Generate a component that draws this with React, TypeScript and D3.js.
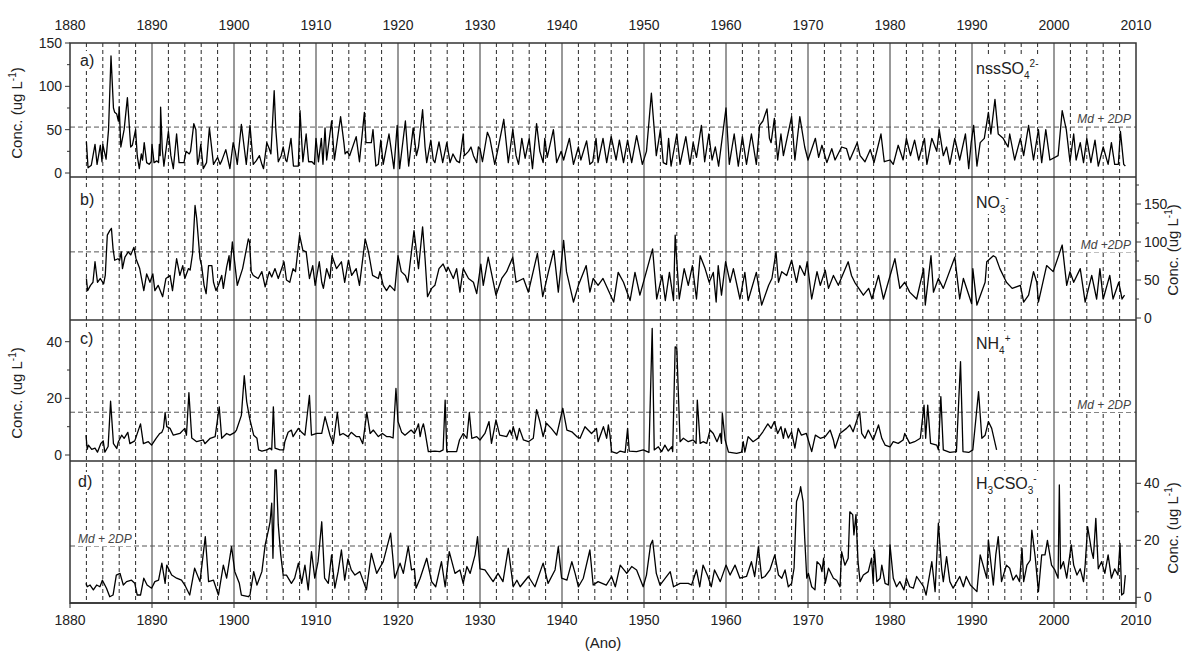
import React from "react";
import * as d3 from "d3";

// decade labels on top/bottom axis
const decadeTicks = d3.range(1880, 2011, 10);
// dashed guide years (every 2 years, not decades)
const guideYears = d3.range(1882, 2010, 2).filter((y) => y % 10 !== 0);

// a) nssSO4 2-  [year, ug/L]
const nssSO4: [number, number][] = [
  [1882.0, 36], [1882.2, 6], [1882.6, 9], [1883.05, 33], [1883.3, 10], [1883.7, 32], [1883.9, 13], [1884.0, 33],
  [1884.4, 16], [1884.7, 50], [1885.0, 135], [1885.3, 75], [1885.45, 70], [1885.7, 68], [1885.9, 60], [1886.0, 76],
  [1886.2, 30], [1886.6, 50], [1887.0, 87], [1887.4, 30], [1887.6, 32], [1888.0, 50], [1888.2, 20], [1888.45, 5],
  [1888.7, 22], [1888.85, 15], [1889.05, 35], [1889.35, 12], [1889.65, 10], [1889.9, 13], [1890.0, 33], [1890.25, 12],
  [1890.6, 14], [1890.8, 12], [1890.9, 33], [1891.0, 20], [1891.05, 76], [1891.25, 28], [1891.45, 8], [1892.0, 48],
  [1892.3, 20], [1892.6, 5], [1893.0, 45], [1893.3, 12], [1893.6, 12], [1893.9, 12], [1894.15, 25], [1894.55, 22],
  [1894.7, 25], [1895.1, 57], [1895.35, 50], [1895.55, 10], [1895.7, 15], [1895.95, 33], [1896.25, 5], [1896.65, 12],
  [1897.0, 52], [1897.5, 10], [1898.0, 18], [1898.3, 10], [1898.5, 14], [1899.0, 27], [1899.5, 5], [1899.9, 35],
  [1900.15, 25], [1900.4, 10], [1900.9, 56], [1901.5, 10], [1901.95, 55], [1902.35, 10], [1902.7, 14], [1903.1, 20],
  [1903.4, 10], [1903.6, 5], [1904.0, 35], [1904.3, 28], [1904.5, 22], [1904.9, 95], [1905.1, 50], [1905.4, 13],
  [1905.75, 20], [1906.0, 30], [1906.3, 15], [1906.45, 13], [1906.95, 40], [1907.25, 8], [1907.85, 8], [1908.05, 72],
  [1908.4, 13], [1908.8, 45], [1909.1, 13], [1909.5, 13], [1909.8, 10], [1910.0, 40], [1910.3, 13], [1910.65, 40],
  [1910.85, 10], [1911.1, 52], [1911.3, 15], [1911.9, 60], [1912.25, 15], [1913.0, 65], [1913.4, 35], [1913.55, 22],
  [1913.8, 25], [1914.1, 20], [1914.9, 42], [1915.3, 13], [1915.9, 70], [1916.1, 35], [1916.75, 35], [1916.95, 50],
  [1917.3, 8], [1917.6, 10], [1917.9, 38], [1918.2, 10], [1918.9, 45], [1919.5, 5], [1919.9, 55], [1920.2, 5],
  [1920.9, 60], [1921.3, 8], [1921.85, 52], [1922.25, 20], [1922.5, 30], [1923.0, 73], [1923.3, 30], [1923.5, 12],
  [1924.0, 38], [1924.3, 15], [1924.5, 12], [1925.0, 36], [1925.45, 12], [1925.95, 35], [1926.35, 12], [1926.7, 22],
  [1927.15, 14], [1927.5, 12], [1927.95, 45], [1928.1, 20], [1928.6, 25], [1928.9, 30], [1929.2, 20], [1929.6, 12],
  [1929.8, 30], [1930.0, 28], [1930.3, 13], [1930.9, 47], [1931.2, 40], [1931.8, 10], [1932.2, 28], [1932.9, 62],
  [1933.45, 12], [1934.0, 50], [1934.4, 20], [1934.7, 10], [1935.1, 40], [1935.5, 17], [1936.0, 40], [1936.4, 5],
  [1936.9, 57], [1937.3, 25], [1937.7, 12], [1937.9, 40], [1938.2, 18], [1938.95, 50], [1939.35, 12], [1939.9, 25],
  [1940.2, 15], [1940.9, 40], [1941.4, 10], [1942.0, 30], [1942.3, 15], [1943.0, 37], [1943.4, 10], [1943.75, 13],
  [1944.15, 40], [1944.4, 12], [1945.0, 40], [1945.45, 12], [1946.0, 42], [1946.6, 15], [1947.0, 38], [1947.5, 12],
  [1948.0, 38], [1948.5, 12], [1949.1, 43], [1949.8, 10], [1950.3, 25], [1950.9, 92], [1951.5, 20], [1952.0, 50],
  [1952.35, 12], [1952.75, 10], [1953.0, 40], [1953.3, 8], [1954.0, 45], [1954.4, 10], [1955.1, 42], [1955.6, 10],
  [1956.0, 35], [1956.4, 18], [1957.0, 55], [1957.4, 13], [1957.9, 45], [1958.3, 15], [1958.7, 30], [1959.1, 8],
  [1960.0, 75], [1960.4, 10], [1961.0, 45], [1961.5, 8], [1962.0, 42], [1962.5, 10], [1963.1, 45], [1963.7, 10],
  [1964.1, 55], [1964.5, 60], [1965.0, 74], [1965.3, 40], [1965.5, 35], [1965.9, 63], [1966.3, 15], [1966.7, 45],
  [1967.0, 20], [1968.0, 65], [1968.4, 15], [1969.0, 65], [1969.6, 30], [1970.0, 15], [1970.9, 40], [1971.3, 18],
  [1971.7, 32], [1972.3, 12], [1972.9, 28], [1973.3, 15], [1974.1, 30], [1974.7, 28], [1975.1, 15], [1976.0, 35],
  [1976.35, 20], [1976.95, 13], [1977.6, 27], [1978.05, 12], [1978.9, 45], [1979.3, 13], [1980.0, 15], [1980.4, 10],
  [1981.0, 32], [1981.6, 15], [1982.0, 40], [1982.5, 20], [1983.0, 38], [1983.5, 15], [1984.2, 40], [1984.5, 10],
  [1985.1, 40], [1985.7, 25], [1986.0, 50], [1986.5, 20], [1986.9, 30], [1987.3, 10], [1987.9, 40], [1988.5, 15],
  [1989.2, 45], [1989.6, 5], [1989.9, 35], [1990.2, 55], [1990.6, 8], [1991.0, 35], [1991.5, 40], [1992.0, 70],
  [1992.3, 45], [1992.8, 85], [1993.2, 45], [1993.8, 40], [1994.4, 30], [1994.6, 45], [1995.2, 15], [1995.9, 40],
  [1996.3, 20], [1996.9, 55], [1997.5, 15], [1998.1, 50], [1998.5, 12], [1999.0, 50], [1999.5, 15], [2000.5, 20],
  [2001.0, 72], [2001.5, 50], [2001.95, 13], [2002.4, 45], [2002.7, 15], [2003.2, 35], [2003.6, 12], [2004.0, 40],
  [2004.5, 12], [2005.0, 38], [2005.4, 8], [2006.0, 30], [2006.6, 10], [2007.0, 35], [2007.4, 10], [2007.85, 10],
  [2008.1, 48], [2008.5, 10], [2008.7, 8],
];

// b) NO3-
const no3: [number, number][] = [
  [1882.0, 52], [1882.15, 36], [1882.5, 43], [1882.8, 47], [1883.05, 74], [1883.35, 47], [1883.7, 52], [1884.1, 45],
  [1884.3, 56], [1884.55, 109], [1884.85, 115], [1885.05, 118], [1885.25, 91], [1885.45, 76], [1885.85, 78], [1886.05, 76],
  [1886.25, 87], [1886.4, 65], [1886.7, 80], [1887.1, 87], [1887.4, 83], [1887.8, 93], [1888.05, 78], [1888.5, 65],
  [1889.0, 36], [1889.35, 58], [1889.75, 47], [1890.1, 58], [1890.35, 36], [1890.75, 43], [1891.3, 28], [1891.7, 52],
  [1892.2, 56], [1892.5, 36], [1893.0, 78], [1893.4, 56], [1893.75, 69], [1894.0, 52], [1894.45, 65], [1894.65, 63],
  [1894.95, 85], [1895.25, 148], [1895.45, 131], [1895.85, 78], [1896.05, 69], [1896.35, 43], [1896.6, 32], [1896.9, 69],
  [1897.3, 69], [1897.5, 47], [1897.8, 36], [1898.1, 43], [1898.5, 56], [1898.7, 39], [1899.1, 67], [1899.4, 82],
  [1899.5, 63], [1899.8, 100], [1900.4, 43], [1901.05, 65], [1901.75, 104], [1901.9, 100], [1902.1, 61], [1902.35, 56],
  [1902.95, 52], [1903.4, 61], [1903.8, 41], [1904.3, 61], [1904.6, 54], [1905.0, 65], [1905.4, 52], [1906.1, 74],
  [1906.4, 50], [1906.8, 47], [1907.2, 65], [1907.5, 61], [1908.0, 109], [1908.4, 89], [1908.8, 87], [1909.2, 52],
  [1909.6, 69], [1909.9, 43], [1910.4, 74], [1910.7, 47], [1910.9, 39], [1911.3, 65], [1911.7, 52], [1911.95, 82],
  [1912.5, 65], [1913.1, 74], [1913.5, 47], [1913.95, 76], [1914.35, 56], [1914.9, 65], [1915.3, 43], [1916.0, 104],
  [1916.4, 87], [1916.9, 56], [1917.6, 52], [1917.8, 61], [1918.2, 43], [1918.6, 36], [1919.0, 43], [1919.6, 36],
  [1920.0, 82], [1920.4, 61], [1920.9, 56], [1921.2, 47], [1921.95, 115], [1922.5, 65], [1923.0, 120], [1923.3, 78],
  [1923.6, 28], [1924.1, 39], [1924.5, 43], [1925.0, 65], [1925.5, 71], [1925.9, 61], [1926.1, 67], [1926.75, 52],
  [1927.15, 65], [1927.55, 34], [1927.95, 65], [1928.6, 52], [1929.2, 47], [1929.6, 32], [1930.1, 71], [1930.4, 43],
  [1931.0, 80], [1931.95, 30], [1932.65, 52], [1933.25, 61], [1934.0, 80], [1934.4, 47], [1935.3, 52], [1935.9, 34],
  [1937.0, 85], [1937.65, 28], [1938.35, 61], [1939.0, 89], [1939.55, 34], [1940.2, 102], [1940.55, 61], [1941.4, 21],
  [1942.0, 43], [1942.95, 69], [1943.4, 34], [1943.8, 52], [1944.4, 43], [1945.0, 52], [1946.3, 21], [1946.85, 60],
  [1947.5, 47], [1948.3, 23], [1948.9, 60], [1949.5, 30], [1951.05, 91], [1951.55, 25], [1952.2, 56], [1952.6, 23],
  [1953.1, 60], [1953.6, 23], [1953.8, 109], [1954.3, 25], [1954.9, 65], [1955.4, 43], [1955.9, 69], [1956.4, 25],
  [1956.85, 82], [1957.45, 65], [1957.95, 47], [1958.45, 60], [1958.8, 21], [1959.05, 69], [1959.45, 30], [1959.95, 74],
  [1960.5, 47], [1960.9, 65], [1961.7, 25], [1962.3, 60], [1962.7, 23], [1963.7, 60], [1964.35, 17], [1965.2, 43],
  [1965.6, 52], [1966.1, 87], [1966.4, 47], [1966.8, 61], [1967.4, 56], [1968.0, 76], [1968.6, 47], [1969.0, 69],
  [1969.6, 56], [1969.9, 74], [1970.45, 25], [1971.1, 61], [1971.5, 43], [1972.1, 63], [1972.5, 39], [1973.1, 56],
  [1973.7, 43], [1974.9, 74], [1975.3, 56], [1975.7, 47], [1976.75, 30], [1977.4, 39], [1977.8, 25], [1978.6, 56],
  [1979.2, 25], [1980.6, 78], [1981.2, 39], [1981.8, 47], [1982.4, 34], [1983.25, 25], [1984.1, 65], [1984.3, 17],
  [1985.0, 82], [1985.3, 34], [1985.9, 52], [1986.5, 39], [1987.9, 80], [1988.5, 25], [1988.95, 52], [1989.95, 19],
  [1990.1, 65], [1990.6, 17], [1991.6, 47], [1991.8, 74], [1992.2, 78], [1992.6, 82], [1992.9, 80], [1993.4, 65],
  [1994.2, 47], [1994.9, 39], [1995.9, 43], [1996.3, 21], [1996.9, 30], [1997.5, 61], [1997.9, 47], [1998.1, 21],
  [1999.1, 69], [1999.9, 61], [2001.0, 96], [2001.55, 43], [2001.95, 61], [2002.4, 47], [2003.2, 65], [2003.8, 21],
  [2004.6, 56], [2005.2, 25], [2005.6, 65], [2006.0, 25], [2006.8, 56], [2007.2, 25], [2007.9, 47], [2008.3, 25],
  [2008.6, 30],
];

// c) NH4+
const nh4: [number, number][] = [
  [1881.95, 7], [1882.1, 2], [1882.25, 3.5], [1882.65, 2], [1883.05, 2.4], [1883.35, 1], [1883.75, 4], [1884.05, 5],
  [1884.25, 1], [1884.65, 3], [1884.95, 19], [1885.3, 4], [1885.7, 2.3], [1885.9, 4.7], [1886.3, 7], [1886.6, 5.9],
  [1887.05, 8], [1887.3, 4], [1887.9, 5], [1888.6, 11], [1888.95, 4], [1889.55, 4.7], [1889.95, 3.5], [1890.5, 5.9],
  [1890.95, 7.6], [1891.2, 8], [1891.4, 9.4], [1891.6, 15], [1891.8, 10], [1892.2, 9.4], [1892.6, 7], [1893.4, 7.6],
  [1894.0, 9.4], [1894.2, 7], [1894.5, 22], [1894.85, 6], [1895.45, 4.7], [1896.25, 5.3], [1896.45, 4], [1897.1, 5.9],
  [1897.7, 6.5], [1898.2, 17], [1898.5, 5.9], [1899.1, 7.6], [1899.5, 7], [1900.1, 8], [1900.3, 8.8], [1900.9, 14],
  [1901.25, 28], [1901.55, 18.8], [1901.9, 13], [1902.4, 7], [1902.8, 5.9], [1903.0, 1.8], [1903.4, 1.4], [1904.0, 1.8],
  [1904.4, 2.4], [1904.6, 1.8], [1904.8, 17], [1905.0, 2.4], [1905.6, 1.8], [1906.05, 1.8], [1906.2, 4.7], [1906.6, 8],
  [1907.0, 8.8], [1907.2, 6.5], [1907.85, 9.4], [1908.25, 8], [1908.65, 7], [1909.2, 21], [1909.45, 7], [1910.1, 7.6],
  [1910.7, 7.6], [1911.1, 13.5], [1911.7, 7], [1912.1, 4], [1912.6, 15], [1912.9, 7], [1913.3, 7.6], [1913.9, 6.5],
  [1914.3, 8], [1914.9, 6.5], [1915.3, 6.5], [1915.7, 4], [1916.2, 15], [1916.6, 7.6], [1917.0, 8.8], [1917.6, 6.5],
  [1918.1, 7.6], [1918.6, 6.5], [1919.0, 6.5], [1919.4, 6], [1919.75, 23.5], [1920.0, 11.8], [1920.45, 8], [1920.85, 7],
  [1921.6, 8.8], [1922.0, 7.6], [1922.3, 9.4], [1922.5, 11], [1922.7, 6.5], [1922.9, 9.4], [1923.1, 11], [1923.3, 8.2],
  [1923.7, 1.2], [1924.5, 1.4], [1925.1, 1.2], [1925.5, 1.8], [1925.75, 19.4], [1925.95, 1.2], [1927.15, 1.2], [1927.5, 5.3],
  [1927.95, 7.6], [1928.4, 5.9], [1928.7, 15], [1929.0, 5.9], [1929.6, 6.5], [1930.0, 5.3], [1930.6, 7.6], [1931.1, 11.8],
  [1931.4, 4.1], [1931.95, 12.4], [1932.4, 7], [1933.25, 6.5], [1933.65, 8.8], [1933.85, 7], [1934.05, 10], [1934.5, 5.3],
  [1934.8, 9.4], [1935.3, 5.3], [1935.9, 4.7], [1936.5, 5.9], [1936.9, 16], [1937.3, 11.8], [1937.7, 6.5], [1938.1, 11.2],
  [1938.7, 9.4], [1939.35, 7], [1940.1, 16.5], [1940.6, 8.8], [1941.2, 8.2], [1941.8, 6.5], [1942.2, 5.9], [1942.8, 10],
  [1943.6, 7.6], [1944.2, 9.4], [1944.4, 4.7], [1945.05, 10], [1945.45, 5.9], [1945.65, 10.6], [1945.85, 7], [1946.05, 1.2],
  [1946.7, 0.6], [1947.1, 1.4], [1947.7, 0.9], [1948.0, 9.4], [1948.2, 1.4], [1949.1, 1.2], [1949.9, 1.8], [1950.6, 0.9],
  [1951.0, 44.7], [1951.25, 1.8], [1951.75, 2.9], [1952.15, 1.2], [1952.55, 3.5], [1952.95, 1.4], [1953.4, 2.9], [1953.5, 1.2],
  [1953.8, 38.2], [1954.0, 37.6], [1954.4, 4.7], [1954.8, 5.9], [1955.4, 4.7], [1956.0, 5.3], [1956.35, 4.1], [1956.5, 19.4],
  [1956.85, 4.1], [1957.2, 4.7], [1957.65, 4.1], [1958.05, 8.8], [1958.45, 7.6], [1958.9, 4.7], [1959.3, 7.6], [1959.45, 4.1],
  [1959.55, 14.7], [1959.9, 5.3], [1960.3, 1], [1961.3, 0.6], [1961.9, 1], [1962.1, 4.7], [1962.3, 1], [1962.7, 6.5],
  [1963.3, 4.7], [1963.9, 5.9], [1964.5, 8.2], [1965.1, 11], [1965.5, 9.4], [1965.9, 11.8], [1966.3, 7.6], [1966.7, 10],
  [1967.0, 5.9], [1967.2, 9.4], [1967.6, 6], [1968.0, 8.2], [1968.4, 2.4], [1968.8, 9.4], [1969.2, 7], [1969.8, 7.6],
  [1970.45, 1.2], [1970.9, 7], [1971.5, 5.9], [1972.1, 6.5], [1972.7, 8.8], [1973.1, 5.3], [1973.3, 2.4], [1973.9, 7.6],
  [1974.7, 9.4], [1975.1, 10.6], [1975.5, 8.2], [1976.3, 15.3], [1976.55, 7.6], [1976.95, 5.9], [1977.35, 8.8], [1977.95, 5.3],
  [1978.6, 10.6], [1979.0, 5.9], [1979.4, 3.5], [1980.0, 2.9], [1980.4, 4.7], [1981.0, 4.1], [1981.6, 5.3], [1981.8, 7.6],
  [1982.4, 4.1], [1983.0, 4.7], [1983.7, 5.9], [1984.15, 17.6], [1984.35, 5.9], [1984.6, 17.6], [1984.95, 4.1], [1985.7, 3.5],
  [1985.9, 1.8], [1986.2, 20.6], [1986.5, 1.8], [1987.3, 0.9], [1988.1, 1.2], [1988.6, 33], [1988.9, 1.2], [1989.6, 0.9],
  [1990.1, 1.8], [1990.8, 22.4], [1991.2, 5.9], [1991.6, 7], [1992.0, 11.8], [1992.4, 9.4], [1993.0, 1.8],
];

// d) H3CSO3-
const h3cso3: [number, number][] = [
  [1881.95, 4.9], [1882.1, 3.7], [1882.45, 4.3], [1882.85, 2.6], [1883.25, 4.3], [1883.65, 3.7], [1883.95, 6], [1884.45, 3.2],
  [1884.85, 0.2], [1885.25, 0.8], [1885.65, 7.8], [1886.1, 8.4], [1886.5, 4.3], [1886.9, 5.5], [1887.5, 6], [1887.9, 4.9],
  [1888.2, 0.8], [1888.6, 0.8], [1889.0, 6.7], [1889.4, 4.3], [1889.95, 3.2], [1890.35, 5.5], [1890.8, 6], [1891.2, 12],
  [1891.6, 4.9], [1891.8, 11.3], [1892.4, 7.8], [1893.0, 6.7], [1893.6, 6], [1894.0, 4.3], [1894.6, 0.8], [1895.2, 10.2],
  [1895.85, 5.5], [1896.5, 21.3], [1896.9, 5.5], [1897.5, 6], [1898.1, 0.8], [1898.7, 11.3], [1899.1, 6.7], [1899.7, 17.8],
  [1900.1, 9], [1900.65, 4.9], [1900.9, 0.8], [1901.75, 0.2], [1901.95, 0.8], [1902.4, 9], [1902.8, 4.3], [1903.4, 9],
  [1903.8, 18.4], [1904.2, 23.6], [1904.4, 26.5], [1904.6, 33], [1904.75, 13.7], [1905.0, 44.7], [1905.15, 44.7], [1905.4, 25.4],
  [1905.7, 14.9], [1906.0, 7.8], [1906.4, 7.8], [1907.0, 4.9], [1907.4, 6.7], [1907.85, 12], [1908.25, 4.9], [1908.65, 11.3],
  [1909.05, 2.6], [1909.45, 16], [1909.85, 6.7], [1910.25, 12.5], [1910.7, 26.5], [1911.05, 6.7], [1911.5, 4.9], [1911.9, 14.9],
  [1912.3, 3.2], [1912.7, 9], [1913.1, 16.6], [1913.5, 6], [1913.9, 13.5], [1914.3, 9.6], [1914.75, 7.8], [1915.35, 9],
  [1916.15, 2.6], [1916.75, 15.4], [1917.4, 8.4], [1918.2, 12.5], [1919.1, 22.5], [1919.6, 6.7], [1920.25, 12], [1920.65, 8.4],
  [1921.25, 17.8], [1921.65, 9.6], [1922.0, 10], [1922.2, 3.2], [1922.7, 6.7], [1923.5, 13.7], [1924.1, 5.5], [1924.6, 3.7],
  [1925.3, 12.5], [1925.75, 3.7], [1926.25, 16], [1926.95, 8.4], [1927.55, 9.6], [1927.95, 4.9], [1928.4, 10.8], [1928.8, 8.4],
  [1929.4, 14.9], [1929.7, 21.3], [1930.0, 10], [1930.6, 9.6], [1931.6, 5.5], [1932.2, 8.4], [1932.8, 5.5], [1933.45, 17.2],
  [1934.05, 3.7], [1934.5, 6], [1934.9, 3.7], [1935.9, 7.3], [1936.7, 3.7], [1937.7, 12], [1938.3, 4.9], [1939.15, 9.6],
  [1939.55, 17.8], [1939.95, 6.7], [1940.6, 6], [1941.2, 12.5], [1941.6, 8.4], [1942.0, 3.7], [1942.6, 6.7], [1943.4, 16.6],
  [1943.8, 4.3], [1944.4, 5.5], [1945.4, 4.3], [1946.05, 7.3], [1946.5, 3.7], [1947.1, 11.3], [1947.9, 8.4], [1948.5, 10.8],
  [1949.1, 9.6], [1949.9, 3.7], [1950.3, 7.8], [1950.8, 18.4], [1951.05, 20], [1951.5, 8.4], [1951.95, 4.3], [1953.2, 9],
  [1953.6, 3.7], [1954.4, 4.9], [1955.4, 4.9], [1955.8, 4.3], [1956.4, 9.6], [1956.8, 3.7], [1957.2, 11.3], [1957.8, 7.3],
  [1958.2, 3.7], [1958.6, 9.6], [1959.3, 5.5], [1960.0, 11.3], [1960.5, 7.8], [1961.1, 11.3], [1961.7, 6.7], [1962.5, 7.3],
  [1963.1, 12.5], [1963.5, 7.3], [1963.95, 17.8], [1964.35, 6.7], [1964.75, 7.3], [1965.35, 9.6], [1965.95, 14.9], [1966.4, 7.8],
  [1966.8, 6.7], [1967.2, 9.6], [1967.6, 3.7], [1968.0, 4.9], [1968.3, 10.2], [1968.6, 33.6], [1969.0, 37], [1969.1, 38.8],
  [1969.4, 33.6], [1969.6, 20.6], [1969.85, 6.7], [1970.05, 8.4], [1970.45, 3.7], [1970.85, 2.6], [1971.1, 12.5], [1971.5, 11.3],
  [1971.7, 9], [1971.9, 13.7], [1972.1, 4.9], [1972.5, 10.2], [1973.1, 6.7], [1973.5, 6], [1973.9, 3.7], [1974.1, 16],
  [1974.5, 11.3], [1974.9, 13.7], [1975.1, 30], [1975.45, 29], [1975.6, 21.9], [1975.85, 29], [1976.1, 12.5], [1976.35, 5.5],
  [1976.75, 7.8], [1977.35, 9], [1977.75, 13.7], [1977.95, 4.9], [1978.1, 16.6], [1978.4, 5.5], [1978.8, 6.7], [1979.0, 11.3],
  [1979.4, 4.9], [1979.8, 4.3], [1980.0, 18.4], [1980.4, 6.7], [1980.8, 3.7], [1981.2, 5.5], [1981.7, 2.6], [1982.0, 6.7],
  [1982.4, 3.7], [1982.85, 3.2], [1983.25, 7.3], [1984.1, 3.7], [1984.4, 0.8], [1985.1, 12.5], [1985.5, 2], [1985.9, 26],
  [1986.3, 10], [1986.5, 5.5], [1986.9, 14.3], [1987.3, 5.5], [1987.7, 3.2], [1988.5, 7.3], [1988.95, 3.7], [1989.3, 7.3],
  [1989.8, 4.3], [1990.6, 2], [1991.0, 14.9], [1991.8, 6.7], [1992.0, 20.1], [1992.6, 4.3], [1992.9, 14.9], [1993.2, 21.3],
  [1993.6, 5.5], [1994.2, 11.3], [1994.6, 10.2], [1995.0, 6], [1995.4, 7.8], [1995.8, 5.5], [1996.1, 17.2], [1996.3, 5.5],
  [1996.7, 11.3], [1997.1, 13], [1997.3, 23.6], [1997.7, 14.3], [1998.1, 2], [1998.5, 14.9], [1998.9, 14.9], [1999.2, 20],
  [1999.7, 11.3], [2000.1, 9.6], [2000.5, 6.7], [2000.65, 39.4], [2000.8, 10], [2001.15, 12.5], [2001.55, 6.7], [2002.1, 18.4],
  [2002.4, 11.3], [2002.8, 7.8], [2003.2, 10], [2003.6, 5.5], [2003.8, 11.3], [2004.1, 24.8], [2004.6, 16], [2004.8, 13.7],
  [2005.1, 27.7], [2005.4, 10], [2005.8, 12.5], [2006.2, 8.4], [2006.6, 14.9], [2007.0, 6.7], [2007.4, 10], [2007.8, 7.8],
  [2008.05, 18.9], [2008.25, 0.8], [2008.5, 1.4], [2008.7, 7.8],
];

const W = 1190;
const H = 653;
const x = d3.scaleLinear().domain([1880, 2010]).range([70, 1136]);
const FONT = "'Liberation Sans', Arial, Helvetica, sans-serif";

type Panel = {
  id: string;
  top: number;
  bottom: number;
  y: d3.ScaleLinear<number, number>;
  major: number[];
  minor: number[];
  side: "left" | "right";
  thr: number;
  data: [number, number][];
};

const panels: Panel[] = [
  { id: "a", top: 43, bottom: 177, y: d3.scaleLinear().domain([0, 150]).range([173, 43]), major: [0, 50, 100, 150], minor: [25, 75, 125], side: "left", thr: 53, data: nssSO4 },
  { id: "b", top: 177, bottom: 320, y: d3.scaleLinear().domain([0, 150]).range([318, 204]), major: [0, 50, 100, 150], minor: [25, 75, 125, 175], side: "right", thr: 87, data: no3 },
  { id: "c", top: 320, bottom: 461, y: d3.scaleLinear().domain([0, 40]).range([455, 341.7]), major: [0, 20, 40], minor: [10, 30], side: "left", thr: 15.1, data: nh4 },
  { id: "d", top: 461, bottom: 603, y: d3.scaleLinear().domain([0, 40]).range([597.3, 483.3]), major: [0, 20, 40], minor: [10, 30], side: "right", thr: 18, data: h3cso3 },
];

const ConcTitle = ({ cx, cy }: { cx: number; cy: number }) => (
  <text transform={`translate(${cx},${cy}) rotate(-90)`} textAnchor="middle" fontSize={15} fill="#222">
    Conc. (ug L<tspan dy={-6} fontSize={10}>-1</tspan><tspan dy={6}>)</tspan>
  </text>
);

// white box behind in-plot labels
const Bg = ({ x0, y0, w, h }: { x0: number; y0: number; w: number; h: number }) => (
  <rect x={x0} y={y0} width={w} height={h} fill="#fff" />
);

export default function App() {
  const left = x.range()[0];
  const right = x.range()[1];
  return (
    <svg width={W} height={H} style={{ position: "absolute", left: 0, top: 0, background: "#fff" }} fontFamily={FONT}>
      <defs>
        {panels.map((p) => (
          <clipPath id={`clip-${p.id}`} key={p.id}>
            <rect x={left} y={p.top} width={right - left} height={p.bottom - p.top} />
          </clipPath>
        ))}
      </defs>

      {/* vertical guides */}
      {guideYears.map((yr) => (
        <line key={`g${yr}`} x1={x(yr)} x2={x(yr)} y1={43} y2={603} stroke="#111" strokeWidth={0.9} strokeDasharray="4,3" />
      ))}
      {decadeTicks.slice(1, -1).map((yr) => (
        <line key={`d${yr}`} x1={x(yr)} x2={x(yr)} y1={43} y2={603} stroke="#555" strokeWidth={1.2} />
      ))}

      {/* label backgrounds */}
      <Bg x0={78} y0={51} w={20} h={20} />
      <Bg x0={78} y0={190} w={20} h={20} />
      <Bg x0={78} y0={329} w={20} h={20} />
      <Bg x0={76} y0={472} w={20} h={20} />
      <Bg x0={974} y0={56} w={70} h={24} />
      <Bg x0={974} y0={190} w={40} h={24} />
      <Bg x0={974} y0={331} w={40} h={24} />
      <Bg x0={974} y0={471} w={72} h={24} />

      {panels.map((p) => {
        const line = d3
          .line<[number, number]>()
          .x((d) => x(d[0]))
          .y((d) => p.y(d[1]));
        const ax = p.side === "left" ? left : right;
        const dir = p.side === "left" ? -1 : 1;
        return (
          <g key={p.id}>
            <line x1={left} x2={right} y1={p.y(p.thr)} y2={p.y(p.thr)} stroke="#555" strokeWidth={1} strokeDasharray="5,3" />
            <path d={line(p.data) || ""} fill="none" stroke="#000" strokeWidth={1.3} strokeLinejoin="round" clipPath={`url(#clip-${p.id})`} />
            {p.major.map((v) => (
              <g key={`m${v}`}>
                <line x1={ax} x2={ax + dir * 5} y1={p.y(v)} y2={p.y(v)} stroke="#333" strokeWidth={1} />
                <text
                  x={ax + dir * 8}
                  y={p.y(v)}
                  dy="0.35em"
                  textAnchor={p.side === "left" ? "end" : "start"}
                  fontSize={14}
                  fill="#222"
                >
                  {v}
                </text>
              </g>
            ))}
            {p.minor.map((v) => (
              <line key={`n${v}`} x1={ax} x2={ax + dir * 3} y1={p.y(v)} y2={p.y(v)} stroke="#333" strokeWidth={1} />
            ))}
            <line x1={left} x2={right} y1={p.bottom} y2={p.bottom} stroke="#333" strokeWidth={1.5} />
          </g>
        );
      })}

      {/* frame */}
      <rect x={left} y={43} width={right - left} height={603 - 43} fill="none" stroke="#333" strokeWidth={1.5} />

      {/* x labels top & bottom */}
      {decadeTicks.map((yr) => (
        <g key={`xl${yr}`}>
          <text x={x(yr)} y={30} textAnchor="middle" fontSize={14} fill="#222">{yr}</text>
          <line x1={x(yr)} x2={x(yr)} y1={603} y2={608} stroke="#333" />
          <text x={x(yr)} y={625} textAnchor="middle" fontSize={14} fill="#222">{yr}</text>
        </g>
      ))}
      <text x={(left + right) / 2} y={648} textAnchor="middle" fontSize={15} fill="#222">(Ano)</text>

      {/* axis titles */}
      <ConcTitle cx={22} cy={113} />
      <ConcTitle cx={22} cy={393} />
      <ConcTitle cx={1178} cy={250} />
      <ConcTitle cx={1178} cy={528} />

      {/* panel letters */}
      <text x={80} y={66} fontSize={16} fill="#222">a)</text>
      <text x={80} y={205} fontSize={16} fill="#222">b)</text>
      <text x={80} y={344} fontSize={16} fill="#222">c)</text>
      <text x={78} y={487} fontSize={16} fill="#222">d)</text>

      {/* species labels */}
      <text x={976} y={74} fontSize={16} fill="#222">
        nssSO<tspan dy={5} fontSize={10}>4</tspan><tspan dy={-12} fontSize={10}>2-</tspan>
      </text>
      <text x={976} y={208} fontSize={16} fill="#222">
        NO<tspan dy={5} fontSize={10}>3</tspan><tspan dy={-12} fontSize={10}>-</tspan>
      </text>
      <text x={976} y={349} fontSize={16} fill="#222">
        NH<tspan dy={5} fontSize={10}>4</tspan><tspan dy={-12} fontSize={10}>+</tspan>
      </text>
      <text x={976} y={489} fontSize={16} fill="#222">
        H<tspan dy={5} fontSize={10}>3</tspan><tspan dy={-5}>CSO</tspan><tspan dy={5} fontSize={10}>3</tspan><tspan dy={-12} fontSize={10}>-</tspan>
      </text>

      {/* threshold labels */}
      <Bg x0={1074} y0={112} w={58} h={14} />
      <text x={1131} y={123} textAnchor="end" fontSize={12} fontStyle="italic" fill="#444">Md + 2DP</text>
      <Bg x0={1078} y0={238} w={54} h={14} />
      <text x={1131} y={249} textAnchor="end" fontSize={12} fontStyle="italic" fill="#444">Md +2DP</text>
      <Bg x0={1074} y0={398} w={58} h={14} />
      <text x={1131} y={409} textAnchor="end" fontSize={12} fontStyle="italic" fill="#444">Md + 2DP</text>
      <Bg x0={76} y0={532} w={58} h={14} />
      <text x={78} y={543} fontSize={12} fontStyle="italic" fill="#444">Md + 2DP</text>
    </svg>
  );
}
